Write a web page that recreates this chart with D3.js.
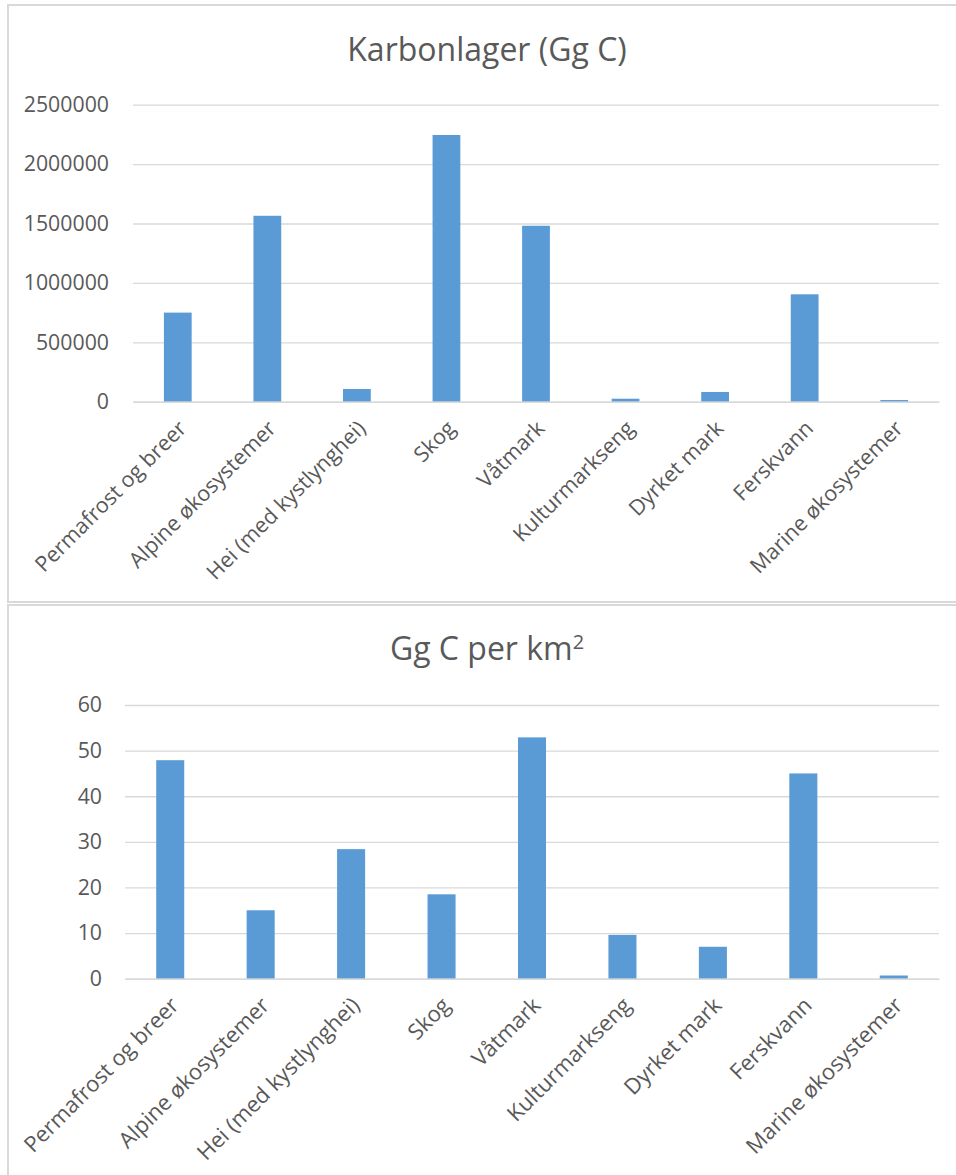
<!DOCTYPE html>
<html><head><meta charset="utf-8">
<script src="https://cdn.jsdelivr.net/npm/d3@7"></script>
<style>
body{margin:0;background:#fff;overflow:hidden}
text{font-family:'Open Sans',sans-serif;fill:#595959}
</style>
</head><body><svg id="c" width="956" height="1175"></svg>
<script>
const categories = ["Permafrost og breer","Alpine økosystemer","Hei (med kystlynghei)","Skog","Våtmark","Kulturmarkseng","Dyrket mark","Ferskvann","Marine økosystemer"];
const karbonlager = [750000, 1565000, 107000, 2245000, 1481000, 25000, 82000, 904000, 14000];
const perKm2 = [47.9, 15.0, 28.4, 18.5, 52.9, 9.6, 7.0, 45.0, 0.7];
const ticksTop = [0, 500000, 1000000, 1500000, 2000000, 2500000];
const ticksBottom = [0, 10, 20, 30, 40, 50, 60];

const svg = d3.select("#c");
const BAR = "#5B9BD5", GRID = "#d9d9d9";

function drawChart(o){
  const g = svg.append("g");
  g.append("rect").attr("x",o.fx).attr("y",o.fy).attr("width",o.fw).attr("height",o.fh)
    .attr("fill","#fff").attr("stroke",GRID).attr("stroke-width",2);
  const t = g.append("text").attr("x",487).attr("y",o.titleY).attr("text-anchor","middle")
    .style("font-size","32px");
  t.append("tspan").text(o.title);
  if(o.sup) t.append("tspan").attr("dy","-11").style("font-size","20px").text(o.sup);

  const x = d3.scaleBand().domain(categories).range([o.x0,o.x1]).paddingInner(0.69).paddingOuter(0.345);
  const y = d3.scaleLinear().domain([0,o.max]).range([o.yb,o.yt]);

  const ya = g.append("g").attr("transform",`translate(${o.x0},0)`)
    .call(d3.axisLeft(y).tickValues(o.ticks).tickSize(-(o.x1-o.x0)).tickPadding(o.pad).tickFormat(d3.format("d")));
  ya.select(".domain").remove();
  ya.selectAll(".tick line").attr("stroke",GRID).attr("stroke-width",1.3);
  ya.selectAll(".tick text").style("font-size","21.3px").attr("fill","#595959");

  g.selectAll("rect.bar").data(o.values).join("rect").attr("class","bar")
    .attr("x",(d,i)=>x(categories[i])).attr("width",x.bandwidth())
    .attr("y",d=>y(d)).attr("height",d=>y(0)-y(d)).attr("fill",BAR);

  const xa = g.append("g").attr("transform",`translate(0,${o.yb})`)
    .call(d3.axisBottom(x).tickSize(0).tickPadding(0));
  xa.select(".domain").attr("stroke",GRID).attr("stroke-width",1.5);
  xa.selectAll(".tick text").style("font-size",o.lab+"px").attr("fill","#595959")
    .attr("text-anchor","end").attr("dy","0")
    .attr("transform","translate(10,28) rotate(-45)");
}

drawChart({fx:8,fy:5,fw:970,fh:597,title:"Karbonlager (Gg C)",titleY:61,lab:21.5,
  x0:133,x1:939,yb:401.7,yt:104.7,max:2500000,ticks:ticksTop,values:karbonlager,pad:24});
drawChart({fx:8,fy:605,fw:970,fh:600,title:"Gg C per km",sup:"2",titleY:660,lab:22,
  x0:125,x1:939,yb:978.7,yt:705,max:60,ticks:ticksBottom,values:perKm2,pad:23});
</script></body></html>
